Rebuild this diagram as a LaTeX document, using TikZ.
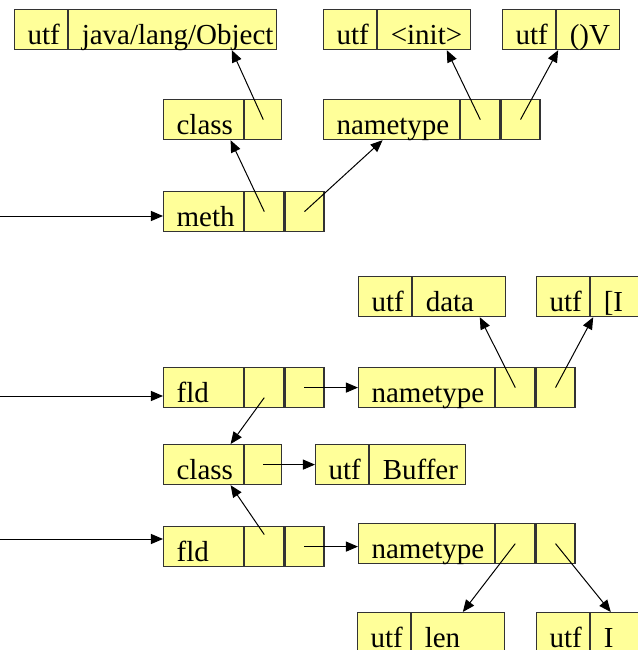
\documentclass[tikz,border=0pt]{standalone}
\usepackage{fontspec}
\setmainfont{Liberation Serif}
\usetikzlibrary{arrows.meta, positioning}
\definecolor{recfill}{HTML}{FFFF99}
\tikzset{
    cell/.style={rectangle, draw=black!80, line width=0.6pt, fill=recfill, minimum height=20pt, text height=17.25pt, text depth=2.75pt, inner ysep=0pt, inner xsep=0pt, anchor=north west, font=\fontsize{14.5}{14.5}\selectfont},
    txtcell/.style={cell, text width=#1, align=left, execute at begin node=\hspace*{6.5pt}},
    ptrcell/.style={cell, minimum width=#1},
    ptrcell/.default=19.5pt,
    arrow/.style={-{Triangle[length=6pt, width=5pt]}, line width=0.5pt},
}

\begin{document}
\begin{tikzpicture}[x=0.5pt, y=-0.5pt]
    \clip (0,0) rectangle (638,650);
    % Method reference: utf entries
    \node[txtcell=26.5pt] (objTag) at (14,9) {utf};
    \node[txtcell=104pt, right=0pt of objTag] (objStr) {java/lang/Object};
    \node[txtcell=26.5pt] (initTag) at (323,9) {utf};
    \node[txtcell=46.5pt, right=0pt of initTag] (initStr) {<init>};
    \node[txtcell=26.5pt] (vTag) at (502,9) {utf};
    \node[txtcell=31.5pt, right=0pt of vTag] (vStr) {()V};

    % class and nametype
    \node[txtcell=40pt] (clsA) at (163,99) {class};
    \node[ptrcell=18.5pt, right=0pt of clsA] (clsAp) {};
    \node[txtcell=68pt] (ntA) at (323,99) {nametype};
    \node[ptrcell, right=0pt of ntA] (ntA1) {};
    \node[ptrcell, right=0pt of ntA1] (ntA2) {};

    % meth entry
    \node[txtcell=40pt] (meth) at (163,191) {meth};
    \node[ptrcell, right=0pt of meth] (meth1) {};
    \node[ptrcell, right=0pt of meth1] (meth2) {};

    % First field reference
    \node[txtcell=26.5pt] (dataTag) at (358,276) {utf};
    \node[txtcell=46.5pt, right=0pt of dataTag] (dataStr) {data};
    \node[txtcell=26.5pt] (arrTag) at (536,276) {utf};
    \node[txtcell=31.5pt, right=0pt of arrTag] (arrStr) {[I};

    \node[txtcell=40pt] (fldA) at (163,367) {fld};
    \node[ptrcell, right=0pt of fldA] (fldA1) {};
    \node[ptrcell, right=0pt of fldA1] (fldA2) {};
    \node[txtcell=68pt] (ntB) at (358,367) {nametype};
    \node[ptrcell, right=0pt of ntB] (ntB1) {};
    \node[ptrcell, right=0pt of ntB1] (ntB2) {};

    % Shared class entry
    \node[txtcell=40pt] (clsB) at (163,444) {class};
    \node[ptrcell=18.5pt, right=0pt of clsB] (clsBp) {};
    \node[txtcell=26.5pt] (bufTag) at (315,444) {utf};
    \node[txtcell=48pt, right=0pt of bufTag] (bufStr) {Buffer};

    % Second field reference
    \node[txtcell=40pt] (fldB) at (163,526) {fld};
    \node[ptrcell, right=0pt of fldB] (fldB1) {};
    \node[ptrcell, right=0pt of fldB1] (fldB2) {};
    \node[txtcell=68pt] (ntC) at (358,523) {nametype};
    \node[ptrcell, right=0pt of ntC] (ntC1) {};
    \node[ptrcell, right=0pt of ntC1] (ntC2) {};

    \node[txtcell=26.5pt] (lenTag) at (357,612) {utf};
    \node[txtcell=46.5pt, right=0pt of lenTag] (lenStr) {len};
    \node[txtcell=26.5pt] (intTag) at (536,612) {utf};
    \node[txtcell=31.5pt, right=0pt of intTag] (intStr) {I};

    % Incoming references
    \coordinate (inA) at (0,216);
    \coordinate (inB) at (0,396);
    \coordinate (inC) at (0,539);
    \draw[arrow] (inA) -- (inA -| meth.west);
    \draw[arrow] (inB) -- (inB -| fldA.west);
    \draw[arrow] (inC) -- (inC -| fldB.west);

    % Pointers of the method reference
    \draw[arrow] (clsAp.center) -- ([xshift=29.5pt]objStr.south);
    \draw[arrow] (meth1.center) -- ([xshift=13.5pt]clsA.south);
    \draw[arrow] (meth2.center) -- ([xshift=-4.5pt]ntA.south);
    \draw[arrow] (ntA1.center) -- ([xshift=11.25pt]initStr.south);
    \draw[arrow] (ntA2.center) -- ([xshift=1pt]vStr.south west);

    % Pointers of the field references
    \draw[arrow] ([yshift=-5pt]fldA1.center) -- ([xshift=13.5pt]clsB.north);
    \draw[arrow] (fldA2.center) -- (fldA2.center -| ntB.west);
    \draw[arrow] (ntB1.center) -- ([xshift=10.25pt]dataStr.south);
    \draw[arrow] (ntB2.center) -- ([xshift=1.5pt]arrStr.south west);
    \draw[arrow] (clsBp.center) -- (clsBp.center -| bufTag.west);
    \draw[arrow] ([yshift=6pt]fldB1.center) -- ([xshift=13.5pt]clsB.south);
    \draw[arrow] (fldB2.center) -- (fldB2.center -| ntC.west);
    \draw[arrow] (ntC1.center) -- ([xshift=2.25pt]lenStr.north);
    \draw[arrow] (ntC2.center) -- ([xshift=-5.75pt]intStr.north);
\end{tikzpicture}
\end{document}
